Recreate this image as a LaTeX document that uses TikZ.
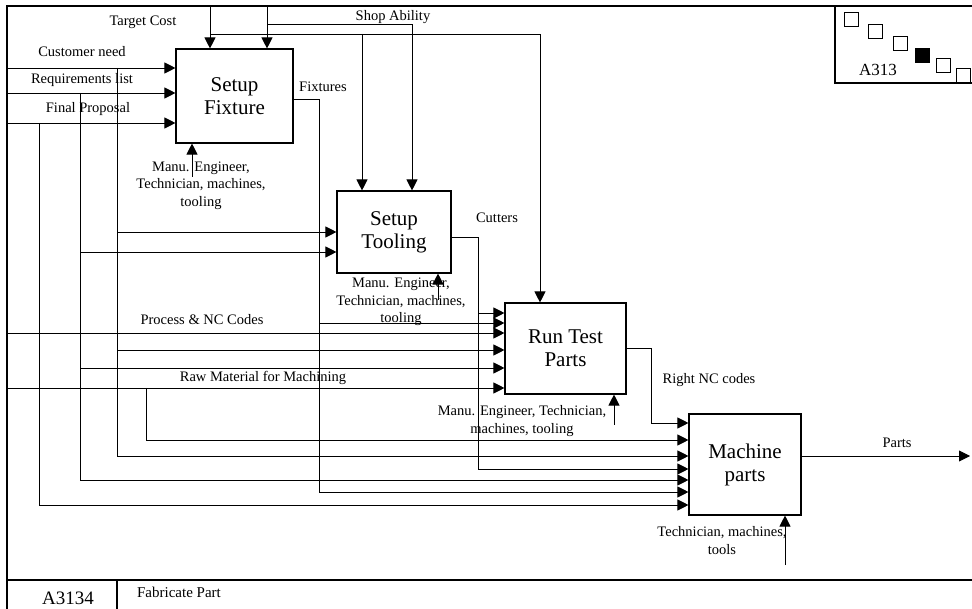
\documentclass[tikz,border=0pt]{standalone}
\usepackage{fontspec}
\setmainfont{Liberation Serif}
\usetikzlibrary{arrows.meta}
\begin{document}
\begin{tikzpicture}[x=1pt,y=-1pt,
  line width=0.9pt,
  arr/.style={-{Triangle[length=11pt,width=11pt]}},
  func/.style={draw, line width=1.1pt, align=center, inner sep=0pt,
    font=\fontsize{21}{23}\selectfont},
  lbl/.style={font=\fontsize{14.5}{17.5}\selectfont, inner sep=0pt, align=center},
  frame/.style={line width=1.2pt},
]
\useasboundingbox (0,0) rectangle (972,609);

% ---- diagram frame, node tree and title strip
\draw[frame] (972,6) -- (7,6) -- (7,609);
\draw[frame] (835,6) -- (835,83) -- (972,83);
\draw[frame] (7,580) -- (972,580);
\draw[frame] (117,580) -- (117,609);
\foreach \x/\y in {844/12, 868/24, 893/36, 936/58, 956/68}
  \draw[line width=0.8pt] (\x,\y) rectangle ++(14,14);
\fill (915,48) rectangle ++(15,15);
\node[font=\fontsize{17}{20}\selectfont, inner sep=0pt] (nodeid) at (878,70) {A313};
\node[font=\fontsize{19}{22}\selectfont, inner sep=0pt] (diagid) at (68,598) {A3134};
\node[font=\fontsize{15}{18}\selectfont, inner sep=0pt] (title) at (179,592) {Fabricate Part};

% ---- activity boxes
\node[func, minimum width=117pt, minimum height=94pt] (sf) at (234.5,96) {Setup\\Fixture};
\node[func, minimum width=114pt, minimum height=82pt] (st) at (394,232) {Setup\\Tooling};
\node[func, minimum width=121pt, minimum height=91pt] (rt) at (565.5,348.5) {Run Test\\Parts};
\node[func, minimum width=112pt, minimum height=101pt] (mp) at (745,464.5) {Machine\\parts};

% ---- controls from the top
\coordinate (tcTop) at (210,6);
\coordinate (saTop) at (267,6);
\coordinate (tcJ) at (210,34);
\coordinate (tcA) at (362,34);
\coordinate (tcB) at (540,34);
\coordinate (saJ) at (267,24);
\coordinate (saA) at (412,24);
\draw[arr] (tcTop) -- (tcTop |- sf.north);
\draw[arr] (saTop) -- (saTop |- sf.north);
\draw[arr] (tcJ) -- (tcB) -- (tcB |- rt.north);
\draw[arr] (tcA) -- (tcA |- st.north);
\draw[arr] (saJ) -- (saA) -- (saA |- st.north);

% ---- inputs from the left edge
\foreach \n/\y in {cn/68, rl/93, fp/123}{
  \coordinate (\n) at (7,\y);
  \draw[arr] (\n) -- (\n -| sf.west);
}
\coordinate (pnc) at (7,333);
\coordinate (rm) at (7,388);
\draw[arr] (pnc) -- (pnc -| rt.west);
\draw[arr] (rm) -- (rm -| rt.west);

% ---- vertical feeders carrying the inputs down
\draw (117,68) -- (117,456);
\draw (80,93) -- (80,480);
\draw (39,123) -- (39,505);
\draw (146,388) -- (146,440);

% ---- outputs passed on between boxes
\coordinate (fxo) at (319,99);
\coordinate (cto) at (478,237);
\coordinate (nco) at (651,348);
\coordinate (nci) at (651,423);
\draw (fxo -| sf.east) -- (fxo) -- (319,492);
\draw (cto -| st.east) -- (cto) -- (478,469);
\draw[arr] (nco -| rt.east) -- (nco) -- (nci) -- (nci -| mp.west);

% ---- branches into the box inputs
\foreach \x/\y/\b in {117/232/st, 80/252/st,
    478/313/rt, 319/323/rt, 117/350/rt, 80/368/rt,
    146/440/mp, 117/456/mp, 478/469/mp, 80/480/mp, 319/492/mp, 39/505/mp}{
  \coordinate (br) at (\x,\y);
  \draw[arr] (br) -- (br -| \b.west);
}

% ---- final output
\coordinate (pts) at (970,456);
\draw[arr] (pts -| mp.east) -- (pts);

% ---- mechanisms
\coordinate (mA) at (192,177);
\coordinate (mB) at (438,300);
\coordinate (mC) at (614,425);
\coordinate (mD) at (785,565);
\draw[arr] (mA) -- (mA |- sf.south);
\draw[arr] (mB) -- (mB |- st.south);
\draw[arr] (mC) -- (mC |- rt.south);
\draw[arr] (mD) -- (mD |- mp.south);

% ---- arrow labels
\node[lbl] (ltc) at (143,22) {Target Cost};
\node[lbl] (lsa) at (393,17) {Shop Ability};
\node[lbl] (lcn) at (82,52) {Customer need};
\node[lbl] (lrl) at (82,80) {Requirements list};
\node[lbl] (lfp) at (88,109) {Final Proposal};
\node[lbl] (lfx) at (323,87) {Fixtures};
\node[lbl] (lct) at (497,218) {Cutters};
\node[lbl] (lpn) at (202,320) {Process \& NC Codes};
\node[lbl] (lrm) at (263,378) {Raw Material for Machining};
\node[lbl] (lnc) at (709,380) {Right NC codes};
\node[lbl] (lpt) at (897,443) {Parts};
\node[lbl] (mlA) at (201,185.5) {Manu. Engineer,\\Technician, machines,\\tooling};
\node[lbl] (mlB) at (401,302) {Manu. Engineer,\\Technician, machines,\\tooling};
\node[lbl] (mlC) at (522,421) {Manu. Engineer, Technician,\\machines, tooling};
\node[lbl] (mlD) at (722,540.5) {Technician, machines,\\tools};
\end{tikzpicture}
\end{document}
